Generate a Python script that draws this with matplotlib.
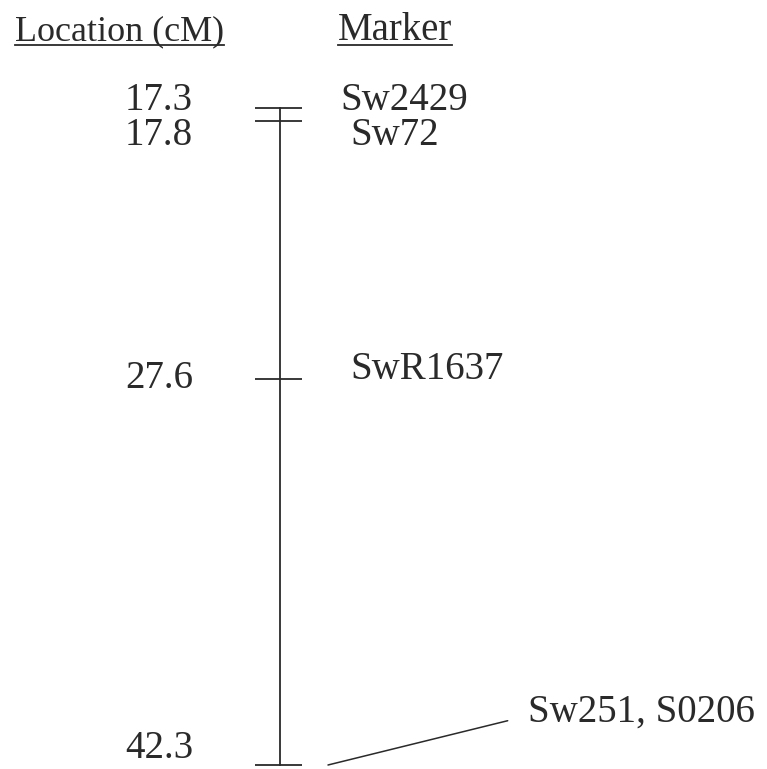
import matplotlib.pyplot as plt

# map data (cM) and marker names
locations = [17.3, 17.8, 27.6, 42.3]
location_labels = ["17.3", "17.8", "27.6", "42.3"]
markers = ["Sw2429", "Sw72", "SwR1637", "Sw251, S0206"]

plt.rcParams['font.family'] = ['Liberation Serif', 'DejaVu Serif']

ink = '#2a2a2a'
W, H = 767, 769

fig = plt.figure(figsize=(W / 100, H / 100), dpi=100)
ax = fig.add_axes([0, 0, 1, 1])
ax.axis('off')
ax.set_xlim(0, W)
# leave room above the first marker for the headers
span = max(locations) - min(locations)
ax.set_ylim(max(locations) + span * 4 / 657, min(locations) - span * 108 / 657)

# chromosome line and ticks
bar_x = 280
ax.plot([bar_x, bar_x], [min(locations), max(locations)], color=ink, lw=1.3)
ax.hlines(locations, bar_x - 25, bar_x + 22, color=ink, lw=1.3)

# labels: small vertical nudges (pixels) so close markers do not collide
loc_dy = [7, -14, 0, 16]
mark_dx = [60, 70, 70, 0]
mark_dy = [7, -14, 9, 0]

for i, (y, lab, mk) in enumerate(zip(locations, location_labels, markers)):
    ax.annotate(lab, xy=(193, y), xytext=(0, loc_dy[i]), textcoords='offset pixels',
                ha='right', va='center', fontsize=28, color=ink)
    if i < len(markers) - 1:
        ax.annotate(mk, xy=(bar_x, y), xytext=(mark_dx[i], mark_dy[i]),
                    textcoords='offset pixels', ha='left', va='center',
                    fontsize=28, color=ink)
    else:
        # last marker sits off to the right with a leader line
        ax.annotate(mk, xy=(bar_x + 48, y), xytext=(200, 53), textcoords='offset pixels',
                    ha='left', va='center', fontsize=28, color=ink,
                    arrowprops=dict(arrowstyle='-', color=ink, lw=1.1,
                                    shrinkA=13, shrinkB=0, relpos=(0, 0.4)))

# underlined headers
headers = [
    fig.text(15 / W, 1 - 40 / H, "Location (cM)", ha='left', va='baseline', fontsize=26, color=ink),
    fig.text(338 / W, 1 - 40 / H, "Marker", ha='left', va='baseline', fontsize=28, color=ink),
]
fig.canvas.draw()
r = fig.canvas.get_renderer()
for t in headers:
    bb = t.get_window_extent(r)
    yl = 1 - 45 / H
    fig.add_artist(plt.Line2D([bb.x0 / W, bb.x1 / W], [yl, yl], color=ink, lw=1.3))

fig.savefig("out.png", dpi=100)
